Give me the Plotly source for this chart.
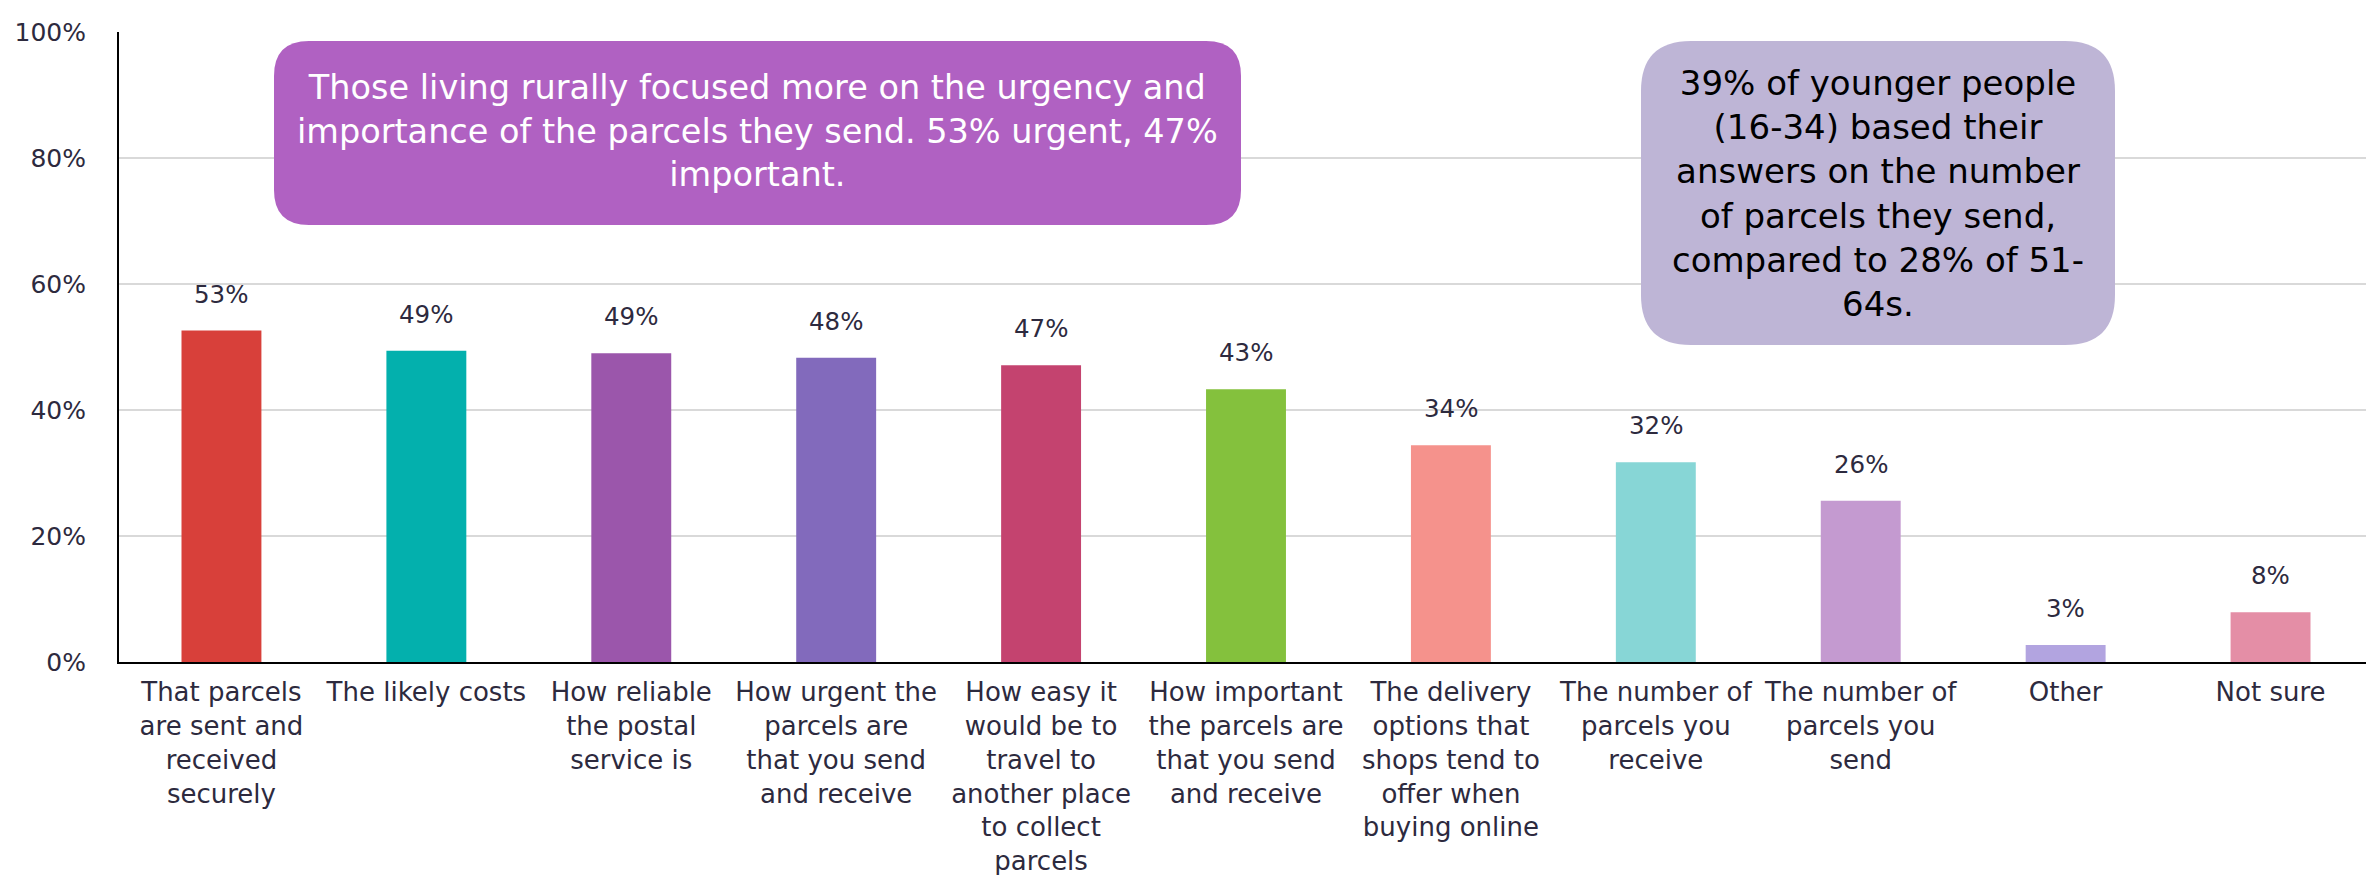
import plotly.graph_objects as go

categories = [
    "That parcels are sent and received securely",
    "The likely costs",
    "How reliable the postal service is",
    "How urgent the parcels are that you send and receive",
    "How easy it would be to travel to another place to collect parcels",
    "How important the parcels are that you send and receive",
    "The delivery options that shops tend to offer when buying online",
    "The number of parcels you receive",
    "The number of parcels you send",
    "Other",
    "Not sure",
]
tick_labels = [
    "That parcels<br>are sent and<br>received<br>securely",
    "The likely costs",
    "How reliable<br>the postal<br>service is",
    "How urgent the<br>parcels are<br>that you send<br>and receive",
    "How easy it<br>would be to<br>travel to<br>another place<br>to collect<br>parcels",
    "How important<br>the parcels are<br>that you send<br>and receive",
    "The delivery<br>options that<br>shops tend to<br>offer when<br>buying online",
    "The number of<br>parcels you<br>receive",
    "The number of<br>parcels you<br>send",
    "Other",
    "Not sure",
]
values = [52.6, 49.4, 49.0, 48.3, 47.1, 43.3, 34.4, 31.7, 25.6, 2.7, 7.9]
value_labels = ["53%", "49%", "49%", "48%", "47%", "43%", "34%", "32%", "26%", "3%", "8%"]
bar_colors = ["#D8403A", "#03B0AD", "#9B56AB", "#826ABC", "#C4436F", "#84C13D",
              "#F5928C", "#87D6D6", "#C49AD0", "#B2A4E0", "#E48EA6"]
y_ticks = [0, 20, 40, 60, 80, 100]
y_tick_text = ["0%", "20%", "40%", "60%", "80%", "100%"]

W, H = 2374, 875
ML, MR, MT, MB = 111, 9, 24, 221
PW, PH = W - ML - MR, H - MT - MB

TEXT = "#2D2A3E"
FONT = "DejaVu Sans, Verdana, sans-serif"

fig = go.Figure()
fig.add_trace(go.Bar(
    x=categories, y=values, marker=dict(color=bar_colors, line=dict(width=0)),
    hoverinfo="skip", showlegend=False,
))

for c, v, t in zip(categories, values, value_labels):
    fig.add_annotation(x=c, y=v, text=t, showarrow=False, xanchor="center", yanchor="bottom",
                       yshift=20, font=dict(family=FONT, size=24.5, color=TEXT))


def px2paper(x, y):
    return (x - ML) / PW, (MT + PH - y) / PH


def rounded_path(x0, y0, x1, y1, r):
    rx, ry = r / PW, r / PH
    X0, Y0 = px2paper(x0, y1)  # bottom-left
    X1, Y1 = px2paper(x1, y0)  # top-right
    return (f"M {X0+rx},{Y0} L {X1-rx},{Y0} Q {X1},{Y0} {X1},{Y0+ry} "
            f"L {X1},{Y1-ry} Q {X1},{Y1} {X1-rx},{Y1} "
            f"L {X0+rx},{Y1} Q {X0},{Y1} {X0},{Y1-ry} "
            f"L {X0},{Y0+ry} Q {X0},{Y0} {X0+rx},{Y0} Z")


box1 = (266, 33, 1233, 217, 35)
box2 = (1633, 33, 2107, 337, 50)
fig.add_shape(type="path", xref="paper", yref="paper", path=rounded_path(*box1),
              fillcolor="#B061C2", line=dict(width=0), layer="above")
fig.add_shape(type="path", xref="paper", yref="paper", path=rounded_path(*box2),
              fillcolor="#BEB5D6", line=dict(width=0), layer="above")

cx, cy = px2paper((box1[0] + box1[2]) / 2, 123)
fig.add_annotation(xref="paper", yref="paper", x=cx, y=cy, xanchor="center", yanchor="middle",
                   showarrow=False,
                   text="Those living rurally focused more on the urgency and<br>"
                        "importance of the parcels they send. 53% urgent, 47%<br>important.",
                   align="center", font=dict(family=FONT, size=33.5, color="#FFFFFF"))
cx, cy = px2paper((box2[0] + box2[2]) / 2, 186)
fig.add_annotation(xref="paper", yref="paper", x=cx, y=cy, xanchor="center", yanchor="middle",
                   showarrow=False,
                   text="39% of younger people<br>(16-34) based their<br>answers on the number<br>"
                        "of parcels they send,<br>compared to 28% of 51-<br>64s.",
                   align="center", font=dict(family=FONT, size=34, color="#000000"))

fig.update_layout(
    width=W, height=H, margin=dict(l=ML, r=MR, t=MT, b=MB, autoexpand=False),
    paper_bgcolor="white", plot_bgcolor="white", bargap=0.61,
    font=dict(family=FONT, color=TEXT),
)
fig.update_xaxes(
    type="category", tickvals=categories, ticktext=tick_labels, tickangle=0,
    tickfont=dict(family=FONT, size=26, color=TEXT),
    showline=True, linecolor="#000000", linewidth=2, showgrid=False,
    ticks="", ticklabelstandoff=6, fixedrange=True,
)
fig.update_yaxes(
    range=[0, 100], tickvals=y_ticks, ticktext=y_tick_text,
    tickfont=dict(family=FONT, size=25, color=TEXT),
    showline=True, linecolor="#000000", linewidth=2,
    showgrid=True, gridcolor="#D9D9D9", gridwidth=2, zeroline=False,
    ticks="", ticklabelstandoff=26, fixedrange=True,
)

fig.write_html("out.html")
